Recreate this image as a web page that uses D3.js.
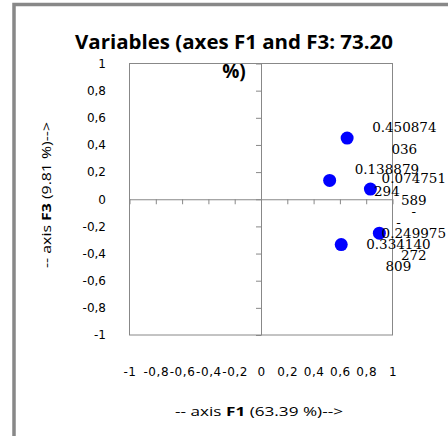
<!DOCTYPE html>
<html>
<head>
<meta charset="utf-8">
<script src="https://cdn.jsdelivr.net/npm/d3@7"></script>
<style>
  body { margin: 0; background: #fff; }
  svg { display: block; }
</style>
</head>
<body>
<div id="chart"></div>
<script>
// F1 coordinate and F3 coordinate (from the labels)
var f1Values = [0.655, 0.522, 0.832, 0.900, 0.610];
var f3Values = [0.450874036, 0.138879294, 0.074751589, -0.249975272, -0.334140809];
var tickValues = [-1, -0.8, -0.6, -0.4, -0.2, 0, 0.2, 0.4, 0.6, 0.8, 1];
var titleLines = ['Variables (axes F1 and F3: 73.20', '%)'];

var W = 448, H = 436;
var plot = { left: 129.5, right: 392.5, top: 63.5, bottom: 335 };
var gray = '#888888';

var svg = d3.select('#chart').append('svg')
    .attr('width', W)
    .attr('height', H)
    .style('background', '#fff');

// outer chart frame (only left and top edges are visible)
svg.append('rect')
    .attr('x', 14)
    .attr('y', 4.5)
    .attr('width', 600)
    .attr('height', 600)
    .attr('fill', 'none')
    .attr('stroke', gray)
    .attr('stroke-width', 3.5);

var xScale = d3.scaleLinear().domain([-1, 1]).range([plot.left, plot.right]);
var yScale = d3.scaleLinear().domain([-1, 1]).range([plot.bottom, plot.top]);

// plot box
svg.append('rect')
    .attr('x', plot.left)
    .attr('y', plot.top)
    .attr('width', plot.right - plot.left)
    .attr('height', plot.bottom - plot.top)
    .attr('fill', 'none')
    .attr('stroke', gray)
    .attr('stroke-width', 1);

var fmt = function (d) {
    return String(+d.toFixed(1)).replace('.', ',');
};

// axes through the origin, ticks only
var vAxis = d3.axisLeft(yScale).tickValues(tickValues).tickSize(5).tickSizeOuter(0).tickFormat('');
var vGuide = svg.append('g').attr('transform', 'translate(' + xScale(0) + ',0)');
vAxis(vGuide);

var hAxis = d3.axisBottom(xScale).tickValues(tickValues).tickSize(5).tickSizeOuter(0).tickFormat('');
var hGuide = svg.append('g').attr('transform', 'translate(0,' + yScale(0) + ')');
hAxis(hGuide);

[vGuide, hGuide].forEach(function (g) {
    g.selectAll('path').attr('stroke', gray);
    g.selectAll('line').attr('stroke', gray);
});

// tick labels, placed outside the box
var yLabels = svg.append('g').attr('transform', 'translate(' + plot.left + ',0)');
d3.axisLeft(yScale).tickValues(tickValues).tickSize(0).tickPadding(23.5).tickFormat(fmt)(yLabels);
var xLabels = svg.append('g').attr('transform', 'translate(0,' + plot.bottom + ')');
d3.axisBottom(xScale).tickValues(tickValues).tickSize(0).tickPadding(32).tickFormat(fmt)(xLabels);

[yLabels, xLabels].forEach(function (g) {
    g.select('.domain').remove();
    g.selectAll('text')
        .attr('fill', '#000')
        .style('font-family', 'DejaVu Sans')
        .style('font-size', '12px');
});
// the x labels are squeezed together in the original
xLabels.selectAll('text').style('letter-spacing', '0.6px');

// points
var points = f1Values.map(function (d, i) {
    return { x: d, y: f3Values[i] };
});

svg.append('g').selectAll('circle')
    .data(points)
    .enter().append('circle')
    .attr('cx', function (d) { return xScale(d.x); })
    .attr('cy', function (d) { return yScale(d.y); })
    .attr('r', 6.5)
    .attr('fill', '#0000ff');

// data labels wrapped the way the spreadsheet did it
function labelLines(v) {
    var s = Math.abs(v).toString();
    var lines = [];
    if (v < 0) lines.push('-');
    lines.push(s.slice(0, 8));
    if (s.length > 8) lines.push(s.slice(8));
    return lines;
}

var lineGap = 22;
var labels = svg.append('g').selectAll('text')
    .data(points)
    .enter().append('text')
    .attr('text-anchor', 'middle')
    .style('font-family', 'DejaVu Serif')
    .style('font-size', '13.5px')
    .attr('fill', '#000');

labels.each(function (d) {
    var t = d3.select(this);
    var lines = labelLines(d.y);
    var px = xScale(d.x), py = yScale(d.y);
    lines.forEach(function (l) {
        t.append('tspan').text(l);
    });
    var w = d3.max(t.selectAll('tspan').nodes(), function (n) { return n.getComputedTextLength(); });
    var cx = Math.min(px + 25 + w / 2, 446 - w / 2);
    var y0 = py - (lines.length - 1) * lineGap / 2;
    t.selectAll('tspan')
        .attr('x', cx)
        .attr('y', function (l, i) { return y0 + i * lineGap; })
        .attr('dy', '0.35em');
});

// title
svg.append('g').selectAll('text')
    .data(titleLines)
    .enter().append('text')
    .attr('x', 234)
    .attr('y', function (d, i) { return 42 + i * 29; })
    .attr('dy', '0.35em')
    .attr('text-anchor', 'middle')
    .style('font-family', 'Open Sans')
    .style('font-weight', 'bold')
    .style('font-size', '19px')
    .attr('textLength', function (d, i) { return i === 0 ? 318 : null; })
    .attr('lengthAdjust', 'spacingAndGlyphs')
    .text(function (d) { return d; });

// axis titles
function axisTitle(g, pre, bold, post, len) {
    var t = g.append('text')
        .attr('text-anchor', 'middle')
        .attr('dy', '0.35em')
        .attr('textLength', len)
        .attr('lengthAdjust', 'spacingAndGlyphs')
        .style('font-family', 'Open Sans')
        .style('font-size', '12.5px');
    t.append('tspan').text(pre);
    t.append('tspan').style('font-weight', 'bold').text(bold);
    t.append('tspan').text(post);
    return t;
}

axisTitle(svg.append('g').attr('transform', 'translate(259,412)'), '-- axis ', 'F1', ' (63.39 %)-->', 168);
axisTitle(svg.append('g').attr('transform', 'translate(47,195) rotate(-90)'), '-- axis ', 'F3', ' (9.81 %)-->', 146);
</script>
</body>
</html>
